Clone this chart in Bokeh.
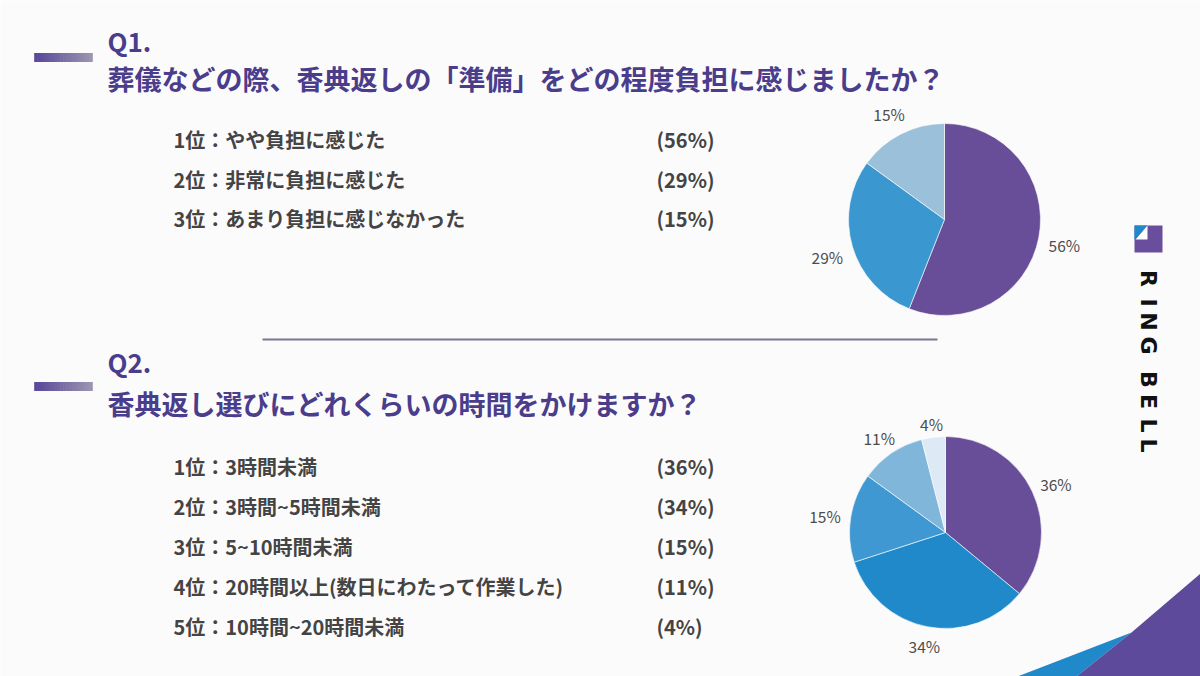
import numpy as np
from bokeh.plotting import figure
from bokeh.models import Range1d
from bokeh.core.properties import value
from bokeh.embed import file_html
from bokeh.resources import INLINE

# ---- data ----
q1_title = "Q1."
q1_question = "葬儀などの際、香典返しの「準備」をどの程度負担に感じましたか？"
q1_labels = ["1位：やや負担に感じた", "2位：非常に負担に感じた", "3位：あまり負担に感じなかった"]
q1_values = [56, 29, 15]
q1_colors = ["#684e98", "#3b97cf", "#9ac1d9"]

q2_title = "Q2."
q2_question = "香典返し選びにどれくらいの時間をかけますか？"
q2_labels = ["1位：3時間未満", "2位：3時間~5時間未満", "3位：5~10時間未満",
             "4位：20時間以上(数日にわたって作業した)", "5位：10時間~20時間未満"]
q2_values = [36, 34, 15, 11, 4]
q2_colors = ["#684e98", "#1f89c9", "#3f98d1", "#80b6da", "#dde9f5"]

logo_letters = ["R", "I", "N", "G", "B", "E", "L", "L"]

FONT = "Noto Sans CJK JP"
TITLE_COLOR = "#4a3d8c"
TEXT_COLOR = "#444444"

p = figure(width=1200, height=676, x_range=Range1d(0, 1200), y_range=Range1d(676, 0),
           output_backend="svg", toolbar_location=None, min_border=0)
p.axis.visible = False
p.grid.visible = False
p.outline_line_color = None
p.background_fill_color = "#fcfbfc"
p.border_fill_color = "#fcfbfc"


def gradient_bar(y):
    n = 20
    x0, x1 = 34, 92
    c0 = np.array([0x5a, 0x48, 0x9a])
    c1 = np.array([0x9a, 0x94, 0xb0])
    w = (x1 - x0) / n
    xs, cs = [], []
    for i in range(n):
        t = i / (n - 1)
        c = (c0 * (1 - t) + c1 * t).astype(int)
        xs.append(x0 + w * (i + 0.5))
        cs.append("#%02x%02x%02x" % tuple(c))
    p.rect(x=xs, y=[y] * n, width=w + 0.6, height=9, fill_color=cs, line_color=None)


def pie(cx, cy, r, vals, colors, label_pos):
    total = sum(vals)
    fr = np.cumsum([0] + list(vals)) / total
    starts = [np.pi / 2 - 2 * np.pi * fr[i + 1] for i in range(len(vals))]
    ends = [np.pi / 2 - 2 * np.pi * fr[i] for i in range(len(vals))]
    p.wedge(x=[cx] * len(vals), y=[cy] * len(vals), radius=r, radius_units="screen",
            start_angle=starts, end_angle=ends, fill_color=colors,
            line_color="#ffffff", line_width=0.6)
    mids = [(s + e) / 2 for s, e in zip(starts, ends)]
    lx, ly = [], []
    for m, rr in zip(mids, label_pos):
        lx.append(cx + rr * np.cos(m))
        ly.append(cy - rr * np.sin(m) + 3)
    p.text(x=lx, y=ly, text=["%d%%" % v for v in vals], text_font=value(FONT),
           text_font_size="15.5px", text_color="#4d4d4d", text_align="center",
           text_baseline="middle")


# Q1 header
gradient_bar(57)
p.text(x=[107], y=[40], text=[q1_title], text_font=value(FONT), text_font_size="26px",
       text_font_style="bold", text_color=TITLE_COLOR, text_baseline="middle")
p.text(x=[107], y=[78], text=[q1_question], text_font=value(FONT), text_font_size="27px",
       text_font_style="bold", text_color=TITLE_COLOR, text_baseline="middle")

q1_y = [139, 179, 218]
p.text(x=[173] * 3, y=q1_y, text=q1_labels, text_font=value(FONT), text_font_size="20px",
       text_font_style="bold", text_color=TEXT_COLOR, text_baseline="middle")
p.text(x=[656] * 3, y=q1_y, text=["(%d%%)" % v for v in q1_values], text_font=value(FONT),
       text_font_size="20px", text_font_style="bold", text_color=TEXT_COLOR,
       text_baseline="middle")

pie(944, 219, 96, q1_values, q1_colors, [122, 122, 122])

# divider
p.segment(x0=[262], y0=[339], x1=[937], y1=[339], line_color="#7b7596", line_width=2)

# Q2 header
gradient_bar(386)
p.text(x=[107], y=[361], text=[q2_title], text_font=value(FONT), text_font_size="26px",
       text_font_style="bold", text_color=TITLE_COLOR, text_baseline="middle")
p.text(x=[107], y=[403], text=[q2_question], text_font=value(FONT), text_font_size="27px",
       text_font_style="bold", text_color=TITLE_COLOR, text_baseline="middle")

q2_y = [466, 506, 546, 586, 626]
p.text(x=[173] * 5, y=q2_y, text=q2_labels, text_font=value(FONT), text_font_size="20px",
       text_font_style="bold", text_color=TEXT_COLOR, text_baseline="middle")
p.text(x=[656] * 5, y=q2_y, text=["(%d%%)" % v for v in q2_values], text_font=value(FONT),
       text_font_size="20px", text_font_style="bold", text_color=TEXT_COLOR,
       text_baseline="middle")

pie(945, 532, 96, q2_values, q2_colors, [122, 113, 122, 118, 112])

# logo
p.patch(x=[1134, 1162, 1162, 1134], y=[225, 225, 252, 252], fill_color="#684e9c", line_color=None)
p.patch(x=[1134, 1147, 1134], y=[225, 225, 239], fill_color="#1f89c9", line_color=None)
p.patch(x=[1147, 1147, 1135], y=[225, 239, 239], fill_color="#ffffff", line_color=None)
logo_y = [278, 302, 321, 345, 379, 401, 425, 445]
p.text(x=[1148] * len(logo_letters), y=logo_y, text=logo_letters, angle=-np.pi / 2,
       text_font=value("DejaVu Sans"), text_font_size="22px", text_font_style="bold",
       text_color="#111111", text_baseline="middle", text_align="center")

# bottom-right decoration
p.patch(x=[1017, 1131, 1076], y=[676, 632, 676], fill_color="#1f89c9", line_color=None)
p.patch(x=[1076, 1131, 1200, 1200], y=[676, 632, 573, 676], fill_color="#5e4a9a", line_color=None)

open("out.html", "w").write(file_html(p, INLINE))
